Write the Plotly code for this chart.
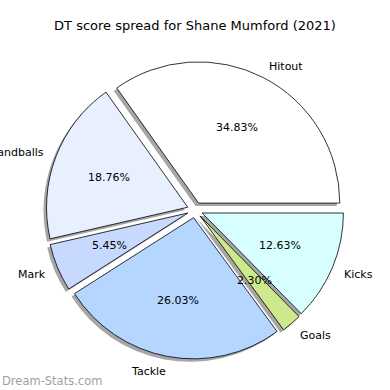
import math
import plotly.graph_objects as go

# ---- data ----
labels = ["Hitout", "Handballs", "Mark", "Tackle", "Goals", "Kicks"]
values = [34.83, 18.76, 5.45, 26.03, 2.30, 12.63]
colors = ["#ffffff", "#e8f0ff", "#c8d9ff", "#b4d6ff", "#cde98c", "#d8ffff"]
title_text = "DT score spread for Shane Mumford (2021)"
watermark = "Dream-Stats.com"

pull = 0.055
pulls = [pull] * len(values)

W = H = 390
SH = 3  # shadow offset in px
ml, mr, mt, mb = 46 - SH, 46, 61, 31 - SH
pw, ph = W - ml - mr, H - mt - mb
box = pw - SH
R = box / (2 + 2 * pull)
FONT = "DejaVu Sans"

total = sum(values)
# plotly (counterclockwise) puts the END of the first slice at `rotation`;
# make the first slice start at 3 o'clock like matplotlib's startangle=0
rot = 90 - 360.0 * values[0] / total

main_dom = dict(x=[SH / pw, 1], y=[SH / ph, 1])
shadow_dom = dict(x=[0, 1 - SH / pw], y=[0, 1 - SH / ph])
cxp = (main_dom["x"][0] + main_dom["x"][1]) / 2
cyp = (main_dom["y"][0] + main_dom["y"][1]) / 2

fig = go.Figure()
# shadow
fig.add_trace(go.Pie(
    labels=labels, values=values, sort=False, direction="counterclockwise",
    rotation=rot, pull=pulls, textinfo="none", hoverinfo="skip",
    marker=dict(colors=["rgba(77,77,77,0.5)"] * len(values), line=dict(width=0)),
    domain=shadow_dom, showlegend=False,
))
# main pie
fig.add_trace(go.Pie(
    labels=labels, values=values, sort=False, direction="counterclockwise",
    rotation=rot, pull=pulls, textinfo="none",
    marker=dict(colors=colors, line=dict(color="black", width=0.8)),
    domain=main_dom, showlegend=False,
))

# text annotations derived from the data (matplotlib-like placement)
cum = 0.0
for lab, v in zip(labels, values):
    a0 = cum / total * 360.0
    cum += v
    a1 = cum / total * 360.0
    mid = math.radians((a0 + a1) / 2)
    c, s = math.cos(mid), math.sin(mid)
    off = pull * R
    rp = off + 0.6 * R
    fig.add_annotation(x=cxp + rp * c / pw, y=cyp + rp * s / ph, xref="paper", yref="paper",
                       text=f"{v / total * 100:.2f}%", showarrow=False,
                       xanchor="center", yanchor="middle", borderpad=0,
                       font=dict(family=FONT, size=11, color="black"))
    rl = off + 1.1 * R
    right = c > 0
    fig.add_annotation(x=cxp + rl * c / pw, y=cyp + rl * s / ph, xref="paper", yref="paper",
                       text=lab, showarrow=False, borderpad=0,
                       xanchor="left" if right else "right", yanchor="middle",
                       xshift=-2 if right else 2, yshift=-1,
                       font=dict(family=FONT, size=11, color="black"))

fig.add_annotation(x=(0 - ml) / pw, y=1 - (381 - mt) / ph, xref="paper", yref="paper",
                   text=watermark, showarrow=False, xanchor="left", yanchor="middle",
                   borderpad=0, xshift=1,
                   font=dict(family=FONT, size=11.5, color="#a0a0a0"))

fig.update_layout(
    width=W, height=H,
    margin=dict(l=ml, r=mr, t=mt, b=mb),
    paper_bgcolor="white", plot_bgcolor="white",
    title=dict(text=title_text, x=0.5, xref="container", xanchor="center",
               y=1 - 25 / H, yref="container", yanchor="middle",
               font=dict(family=FONT, size=13, color="black")),
)
fig.write_html("out.html")
